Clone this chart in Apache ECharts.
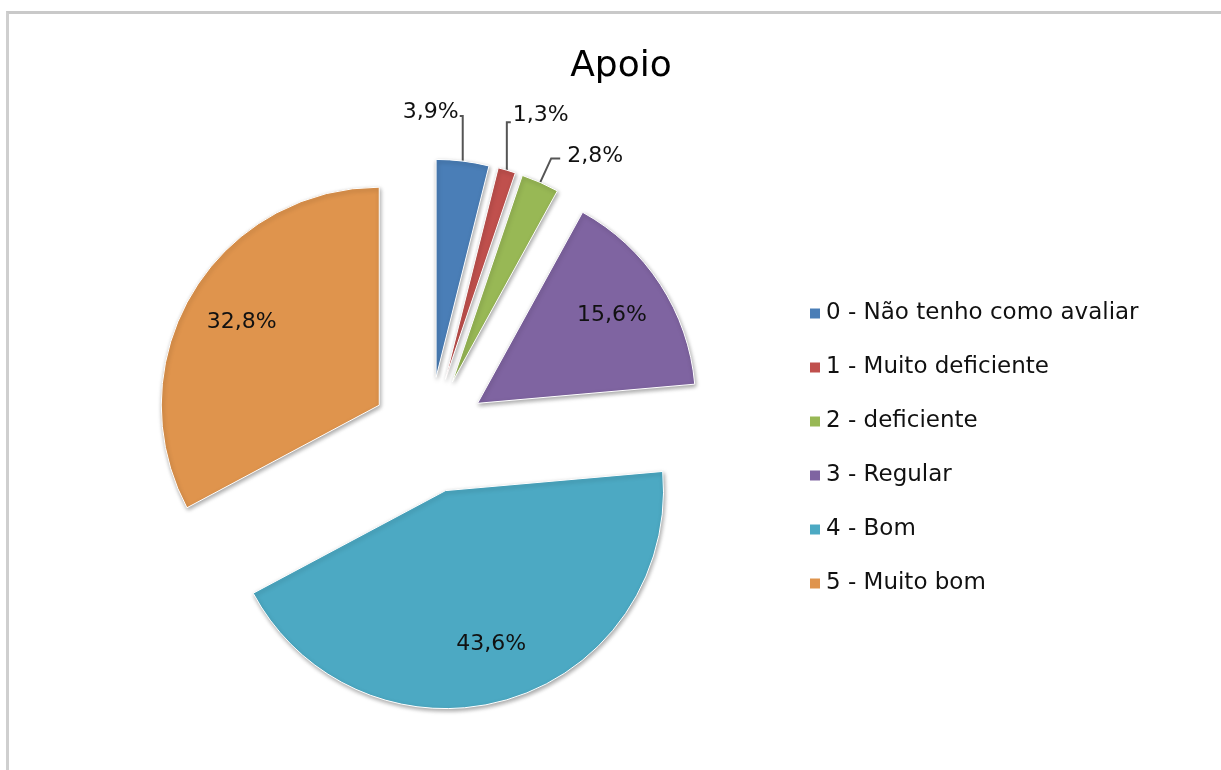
<!DOCTYPE html>
<html>
<head>
<meta charset="utf-8">
<script src="https://cdn.jsdelivr.net/npm/echarts@6/dist/echarts.min.js"></script>
<style>
  html, body { margin: 0; padding: 0; background: #ffffff; overflow: hidden; }
  #frame { position: absolute; left: 6px; top: 11px; width: 1400px; height: 900px;
           border-top: 3px solid #c9c9c9; border-left: 3px solid #cfcfcf; }
  #chart { position: absolute; left: 0; top: 0; width: 1221px; height: 770px; }
</style>
</head>
<body>
<div id="frame"></div>
<div id="chart"></div>
<script>
// ---- data ----
const titleText = 'Apoio';
const categories = ['0 - Não tenho como avaliar', '1 - Muito deficiente', '2 - deficiente', '3 - Regular', '4 - Bom', '5 - Muito bom'];
const values = [3.9, 1.3, 2.8, 15.6, 43.6, 32.8];
const labelInside = [false, false, false, true, true, true];

// ---- styles ----
const colors = ['#4a7eb7', '#c0504d', '#98b855', '#7f64a1', '#4ca9c3', '#df944d'];
const FONT = 'DejaVu Sans';
const center = [429, 435];
const R = 218;
const OFFSET = 58;
const fmt = v => v.toFixed(1).replace('.', ',') + '%';
// leader-line shapes (relative offsets from the slice-edge anchor computed by ECharts)
const leaderStyle = [
  { up: 45, dx: 0, tick: -3, side: 'right', labelDx: -4, labelDy: -49 },
  { up: 48, dx: 0, tick: 4,  side: 'left',  labelDx: 6,  labelDy: -55 },
  { up: 24, dx: 11, tick: 9, side: 'left',  labelDx: 27, labelDy: -26 }
];

const mainData = categories.map((name, i) => {
  const d = { name, value: values[i], selected: true, itemStyle: { color: colors[i] } };
  if (labelInside[i]) {
    d.label = { show: false };
    d.labelLine = { show: false };
  } else {
    d.label = { show: true, position: 'outside' };
    d.labelLine = { show: true, length: 30, length2: 5 };
  }
  return d;
});

const overlayData = categories.map((name, i) => ({
  name, value: values[i], selected: true,
  label: { show: labelInside[i] }
}));

const chart = echarts.init(document.getElementById('chart'), null, { renderer: 'canvas' });
chart.setOption({
  backgroundColor: 'transparent',
  animation: false,
  title: {
    text: titleText, left: 616, top: 44, textAlign: 'center',
    textStyle: { fontFamily: FONT, fontSize: 36, fontWeight: 'normal', color: '#000' }
  },
  legend: {
    orient: 'vertical', left: 803, top: 297,
    itemWidth: 12, itemHeight: 12, itemGap: 31, icon: 'rect',
    data: categories,
    selectedMode: false,
    textStyle: { fontFamily: FONT, fontSize: 23, color: '#111' }
  },
  series: [
    {
      type: 'pie', name: 'Apoio',
      center: center, radius: R,
      startAngle: 90, clockwise: true,
      selectedMode: 'multiple', selectedOffset: OFFSET,
      avoidLabelOverlap: false,
      itemStyle: { borderColor: '#ffffff', borderWidth: 1,
                   shadowBlur: 4, shadowColor: 'rgba(0,0,0,0.35)', shadowOffsetX: 1, shadowOffsetY: 2 },
      label: {
        fontFamily: FONT, fontSize: 22, color: '#111',
        formatter: p => fmt(p.value)
      },
      labelLine: { lineStyle: { color: '#555', width: 2 } },
      labelLayout: p => {
        const s = leaderStyle[p.dataIndex];
        if (!s || !p.labelLinePoints) return null;
        const a = p.labelLinePoints[0];
        const b = [a[0] + s.dx, a[1] - s.up];
        const c = [b[0] + s.tick, b[1]];
        const r = p.labelRect;
        const tx = a[0] + s.labelDx;
        const ty = a[1] + s.labelDy;
        const curX = s.side === 'right' ? r.x + r.width : r.x;
        const curY = r.y + r.height / 2;
        return {
          dx: tx - curX, dy: ty - curY,
          labelLinePoints: [a, b, c]
        };
      },
      emphasis: { disabled: true },
      data: mainData
    },
    {
      type: 'pie', name: 'labels',
      center: center, radius: 315,
      startAngle: 90, clockwise: true,
      selectedMode: 'multiple', selectedOffset: OFFSET,
      silent: true,
      itemStyle: { color: 'rgba(0,0,0,0)' },
      label: {
        position: 'inside',
        fontFamily: FONT, fontSize: 22, color: '#111',
        formatter: p => fmt(p.value)
      },
      labelLine: { show: false },
      emphasis: { disabled: true },
      data: overlayData
    }
  ]
});
</script>
</body>
</html>
